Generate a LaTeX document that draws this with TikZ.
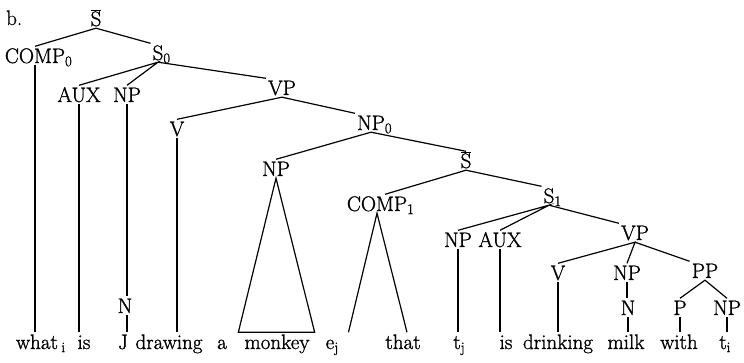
\documentclass[tikz,border=0pt]{standalone}
\usepackage{fontspec}
\setmainfont{Latin Modern Roman}[FakeBold=1.2]
\newcommand{\sbarx}{$\overline{\mbox{S}}$}
\begin{document}
\begin{tikzpicture}[x=1pt,y=-1pt,
  lab/.style={font=\fontsize{21}{25}\selectfont, text height=14.5pt, text depth=0pt, inner sep=2pt, anchor=base},
  edge/.style={line width=1.2pt}]
\useasboundingbox (0,0) rectangle (744,363);
% labels
\node[lab, anchor=base west] (b) at (4,25) {b.};
\node[lab] (Sb) at (96,26) {\sbarx};
\node[lab] (C0) at (35,63) {COMP\rlap{\textsubscript{0}}};
\node[lab] (S0) at (158,60) {S\rlap{\textsubscript{0}}};
\node[lab] (AUX) at (79,102) {AUX};
\node[lab] (NPj) at (127,102) {NP};
\node[lab] (VP) at (282,95) {VP};
\node[lab] (V) at (177,136) {V};
\node[lab] (NP0) at (371,130) {NP\rlap{\textsubscript{0}}};
\node[lab] (NPm) at (276,176) {NP};
\node[lab] (Sb2) at (466,168) {\sbarx};
\node[lab] (C1) at (377,211) {COMP\rlap{\textsubscript{1}}};
\node[lab] (S1) at (549,203) {S\rlap{\textsubscript{1}}};
\node[lab] (NPt) at (458,247) {NP};
\node[lab] (AUX2) at (500,247) {AUX};
\node[lab] (VP2) at (635,240) {VP};
\node[lab] (V2) at (558,280) {V};
\node[lab] (NPk) at (627,280) {NP};
\node[lab] (PP) at (705,278) {PP};
\node[lab] (Nj) at (125,313) {N};
\node[lab] (Nk) at (628,315) {N};
\node[lab] (P) at (680,315) {P};
\node[lab] (NPi) at (727,315) {NP};
% words
\node[lab] (what) at (37,349) {what\rlap{\,\textsubscript{i}}};
\node[lab] (is) at (84,349) {is};
\node[lab] (J) at (123,349) {J};
\node[lab] (drawing) at (169,349) {drawing};
\node[lab] (a) at (222,349) {a};
\node[lab] (monkey) at (277,349) {monkey};
\node[lab] (ej) at (330,349) {e\rlap{\textsubscript{j}}};
\node[lab] (that) at (403,349) {that};
\node[lab] (tj) at (457,349) {t\rlap{\textsubscript{j}}};
\node[lab] (is2) at (506,349) {is};
\node[lab] (drinking) at (558,349) {drinking};
\node[lab] (milk) at (626,349) {milk};
\node[lab] (with) at (679,349) {with};
\node[lab] (ti) at (723,349) {t\rlap{\textsubscript{i}}};
% branches
\draw[edge] (C0.north) -- (Sb.south) -- (S0.north west);
\draw[edge] (AUX.north) -- (S0.south) -- (NPj.north);
\draw[edge] (S0.south) -- (VP.north west);
\draw[edge] (V.north) -- (VP.south) -- (NP0.north west);
\draw[edge] (NPm.north) -- (NP0.south) -- (Sb2.north);
\draw[edge] ([xshift=8pt]C1.north) -- (Sb2.south) -- (S1.north west);
\draw[edge] (NPt.north) -- (S1.south) -- (AUX2.north);
\draw[edge] (S1.south) -- (VP2.north west);
\draw[edge] (V2.north) -- (VP2.south) -- (NPk.north);
\draw[edge] (VP2.south) -- (PP.north west);
\draw[edge] (P.north) -- (PP.south) -- (NPi.north);
% verticals to words
\draw[edge] (C0.south) -- (C0.south |- what.north);
\draw[edge] (AUX.south) -- (AUX.south |- is.north);
\draw[edge] (NPj.south) -- (NPj.south |- Nj.north);
\draw[edge] (Nj.south -| NPj.south) -- (NPj.south |- J.north);
\draw[edge] (V.south) -- (V.south |- drawing.north);
\draw[edge] (NPm.south) -- ([xshift=-4pt]monkey.north west) -- ([xshift=3pt]monkey.north east) -- cycle;
\draw[edge] ([xshift=12pt]ej.north east) -- (C1.south) -- ([xshift=4pt]that.north);
\draw[edge] (NPt.south) -- (NPt.south |- tj.north);
\draw[edge] (AUX2.south) -- (AUX2.south |- is2.north);
\draw[edge] (V2.south) -- (V2.south |- drinking.north);
\draw[edge] (NPk.south) -- (NPk.south |- Nk.north);
\draw[edge] (Nk.south) -- (Nk.south |- milk.north);
\draw[edge] (P.south) -- (P.south |- with.north);
\draw[edge] (NPi.south) -- (NPi.south |- ti.north);
\end{tikzpicture}
\end{document}
